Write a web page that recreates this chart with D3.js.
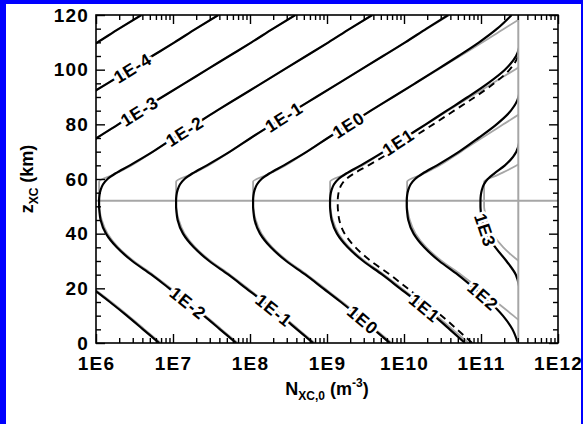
<!DOCTYPE html>
<html>
<head>
<meta charset="utf-8">
<script src="https://cdn.jsdelivr.net/npm/d3@7"></script>
<style>
  body { margin: 0; background: #fff; }
  #chart { width: 583px; height: 424px; }
  .axis text { font-family: "Liberation Sans", Arial, sans-serif; font-weight: bold; font-size: 19px; letter-spacing: 1.2px; fill: #000; }
  .axis line { stroke: #000; stroke-width: 1.4; }
  .clabel { font-family: "Liberation Sans", Arial, sans-serif; font-weight: bold; font-size: 17.5px; letter-spacing: 1px; }
  .title { font-family: "Liberation Sans", Arial, sans-serif; font-weight: bold; font-size: 18px; }
</style>
</head>
<body>
<div id="chart"></div>
<script>
// contour levels (log10 of the labelled value) and their names
var contourLevels = [-5, -4, -3, -2, -1, 0, 1, 2, 3];
var contourNames = ["1E-5", "1E-4", "1E-3", "1E-2", "1E-1", "1E0", "1E1", "1E2", "1E3"];

// profile: log10(N) - level - 8 at each altitude
var zProfile    = [0, 5, 10, 15, 20, 25, 30, 35, 40, 45, 48, 50, 52, 54, 56, 58, 60, 62, 65, 70, 75, 80, 85, 90, 95, 100, 105, 110, 115, 120];
var blackOffset = [1.82, 1.61, 1.40, 1.18, 0.95, 0.72, 0.47, 0.27, 0.13, 0.06, 0.045, 0.04, 0.04, 0.045, 0.06, 0.09, 0.15, 0.25, 0.44, 0.74, 1.01, 1.29, 1.57, 1.86, 2.15, 2.44, 2.73, 3.02, 3.30, 3.59];

// grey approximation curves
var grayZ      = [0, 5, 10, 15, 20, 25, 30, 35, 40, 45, 48, 50, 52, 59, 61.5, 64, 70, 75, 80, 85, 90, 95, 100, 105, 110, 115, 120];
var grayOffset = [1.84, 1.63, 1.42, 1.20, 0.97, 0.74, 0.49, 0.29, 0.15, 0.075, 0.05, 0.04, 0.04, 0.04, 0.22, 0.40, 0.74, 1.01, 1.29, 1.57, 1.86, 2.15, 2.44, 2.73, 3.02, 3.30, 3.59];

// dashed curve beside 1E1
var dashedLevel = 1;
var dashedShift = 0.1;

// grey limit lines and the bending of the black curves near the limit
var grayLimit = 3.05e11;
var zSplit = 52;
var nLimit = 3.25e11;
var satPower = 0.3;

// label positions (altitude on the curve)
var upperLabelLevels = [-4, -3, -2, -1, 0, 1];
var upperLabelZ = [100.6, 84.9, 77.5, 82.7, 79.8, 73.5];
var lowerLabelLevels = [-2, -1, 0, 1, 2, 3];
var lowerLabelZ = [14.6, 12, 8.4, 12.8, 17.2, 41.3];

var xTickValues = [1e6, 1e7, 1e8, 1e9, 1e10, 1e11, 1e12];
var xTickLabels = ["1E6", "1E7", "1E8", "1E9", "1E10", "1E11", "1E12"];
var yTickValues = [0, 20, 40, 60, 80, 100, 120];

var svgWidth = 583, svgHeight = 424;
var margin = { top: 15, right: 25, bottom: 81, left: 96 };
var width = svgWidth - margin.left - margin.right;
var height = svgHeight - margin.top - margin.bottom;

var svg = d3.select("#chart").append("svg")
  .attr("width", svgWidth)
  .attr("height", svgHeight);

// blue frame of the picture
svg.append("rect").attr("x", 0).attr("y", 0).attr("width", 6).attr("height", svgHeight).attr("fill", "#0000ff");
svg.append("rect").attr("x", 0).attr("y", 0).attr("width", svgWidth).attr("height", 4).attr("fill", "#0000ff");
svg.append("rect").attr("x", 581).attr("y", 0).attr("width", 2).attr("height", svgHeight).attr("fill", "#0000ff");

var chartGroup = svg.append("g")
  .attr("transform", `translate(${margin.left}, ${margin.top})`);

var x = d3.scaleLog().domain([1e6, 1e12]).range([0, width]);
var y = d3.scaleLinear().domain([0, 120]).range([height, 0]);

var limitX = x(grayLimit);

var defs = svg.append("defs");
defs.append("clipPath").attr("id", "grayClip")
  .append("rect").attr("x", 0).attr("y", 0).attr("width", limitX).attr("height", height);
defs.append("clipPath").attr("id", "blackClip")
  .append("rect").attr("x", 0).attr("y", 0).attr("width", limitX - 1).attr("height", height);

function saturate(ni) {
  var lo = 3, hi = Math.log10(nLimit) - 1e-9;
  for (var k = 0; k < 60; k++) {
    var mid = (lo + hi) / 2;
    var n = Math.pow(10, mid);
    var f = n * Math.pow(1 - n / nLimit, -satPower);
    if (f < ni) lo = mid; else hi = mid;
  }
  return Math.pow(10, lo);
}

var blackAt = d3.scaleLinear().domain(zProfile).range(blackOffset);

function blackPoint(level, z) {
  var n = saturate(Math.pow(10, level + 8 + blackAt(z)));
  return [x(n), y(z)];
}

var line = d3.line().curve(d3.curveMonotoneY);

// grey reference lines
chartGroup.append("line")
  .attr("x1", 0).attr("x2", width)
  .attr("y1", y(zSplit)).attr("y2", y(zSplit))
  .attr("stroke", "#a6a6a6").attr("stroke-width", 2);
chartGroup.append("line")
  .attr("x1", limitX).attr("x2", limitX)
  .attr("y1", 0).attr("y2", height)
  .attr("stroke", "#a6a6a6").attr("stroke-width", 2);

// grey approximations
var grayGroup = chartGroup.append("g").attr("clip-path", "url(#grayClip)");
grayGroup.selectAll("path")
  .data(contourLevels)
  .enter()
  .append("path")
  .attr("d", function(level) {
    return line(grayZ.map(function(z, i) {
      return [x(Math.pow(10, level + 8 + grayOffset[i])), y(z)];
    }));
  })
  .attr("fill", "none")
  .attr("stroke", "#a6a6a6")
  .attr("stroke-width", 1.8);

// black contours
var blackGroup = chartGroup.append("g").attr("clip-path", "url(#blackClip)");
blackGroup.selectAll("path.contour")
  .data(contourLevels)
  .enter()
  .append("path")
  .attr("class", "contour")
  .attr("d", function(level) {
    return line(zProfile.map(function(z) { return blackPoint(level, z); }));
  })
  .attr("fill", "none")
  .attr("stroke", "#000")
  .attr("stroke-width", 2.2);

blackGroup.append("path")
  .attr("d", line(zProfile.map(function(z) { return blackPoint(dashedLevel + dashedShift, z); })))
  .attr("fill", "none")
  .attr("stroke", "#000")
  .attr("stroke-width", 1.9)
  .attr("stroke-dasharray", "7,5");

// contour labels
function addLabel(level, z) {
  var p = blackPoint(level, z);
  var a = blackPoint(level, z - 0.5), b = blackPoint(level, z + 0.5);
  var ang = Math.atan2(b[1] - a[1], b[0] - a[0]) * 180 / Math.PI;
  if (b[0] < a[0]) ang += 180;
  if (ang > 90) ang -= 180;
  chartGroup.append("text")
    .attr("class", "clabel")
    .attr("transform", `translate(${p[0]}, ${p[1]}) rotate(${ang})`)
    .attr("text-anchor", "middle")
    .attr("dy", "0.36em")
    .attr("stroke", "#fff")
    .attr("stroke-width", 5)
    .attr("paint-order", "stroke")
    .attr("fill", "#000")
    .text(contourNames[contourLevels.indexOf(level)]);
}
upperLabelLevels.forEach(function(level, i) { addLabel(level, upperLabelZ[i]); });
lowerLabelLevels.forEach(function(level, i) { addLabel(level, lowerLabelZ[i]); });

// axes
var xMinor = [];
for (var e = 6; e < 12; e++) {
  for (var m = 2; m <= 9; m++) xMinor.push(m * Math.pow(10, e));
}
var yMinor = d3.range(0, 121, 5).filter(function(v) { return v % 20 !== 0; });

function axisGroup(axis, tx, ty) {
  var g = chartGroup.append("g").attr("class", "axis")
    .attr("transform", `translate(${tx}, ${ty})`)
    .call(axis);
  g.select(".domain").remove();
  return g;
}

axisGroup(d3.axisBottom(x).tickValues(xTickValues)
  .tickFormat(function(d, i) { return xTickLabels[i]; })
  .tickSizeInner(-9).tickSizeOuter(0).tickPadding(13.5), 0, height);
axisGroup(d3.axisBottom(x).tickValues(xMinor).tickFormat("").tickSizeInner(-5).tickSizeOuter(0), 0, height);
axisGroup(d3.axisTop(x).tickValues(xTickValues).tickFormat("").tickSizeInner(-9).tickSizeOuter(0), 0, 0);
axisGroup(d3.axisTop(x).tickValues(xMinor).tickFormat("").tickSizeInner(-5).tickSizeOuter(0), 0, 0);

axisGroup(d3.axisLeft(y).tickValues(yTickValues).tickFormat(d3.format("d"))
  .tickSizeInner(-9).tickSizeOuter(0).tickPadding(7), 0, 0);
axisGroup(d3.axisLeft(y).tickValues(yMinor).tickFormat("").tickSizeInner(-5).tickSizeOuter(0), 0, 0);
axisGroup(d3.axisRight(y).tickValues(yTickValues).tickFormat("").tickSizeInner(-9).tickSizeOuter(0), width, 0);
axisGroup(d3.axisRight(y).tickValues(yMinor).tickFormat("").tickSizeInner(-5).tickSizeOuter(0), width, 0);

chartGroup.append("rect")
  .attr("width", width).attr("height", height)
  .attr("fill", "none").attr("stroke", "#000").attr("stroke-width", 1.6);

// axis titles
var yTitle = svg.append("text")
  .attr("class", "title")
  .attr("transform", `translate(33, ${margin.top + height / 2}) rotate(-90)`)
  .attr("text-anchor", "middle");
yTitle.append("tspan").text("z");
yTitle.append("tspan").attr("font-size", "12px").attr("dy", 5).text("XC");
yTitle.append("tspan").attr("dy", -5).text(" (km)");

var xTitle = svg.append("text")
  .attr("class", "title")
  .attr("x", margin.left + width / 2)
  .attr("y", 395)
  .attr("text-anchor", "middle");
xTitle.append("tspan").text("N");
xTitle.append("tspan").attr("font-size", "12px").attr("dy", 5).text("XC,0");
xTitle.append("tspan").attr("dy", -5).text(" (m");
xTitle.append("tspan").attr("font-size", "12px").attr("dy", -8).text("-3");
xTitle.append("tspan").attr("dy", 8).text(")");
</script>
</body>
</html>
